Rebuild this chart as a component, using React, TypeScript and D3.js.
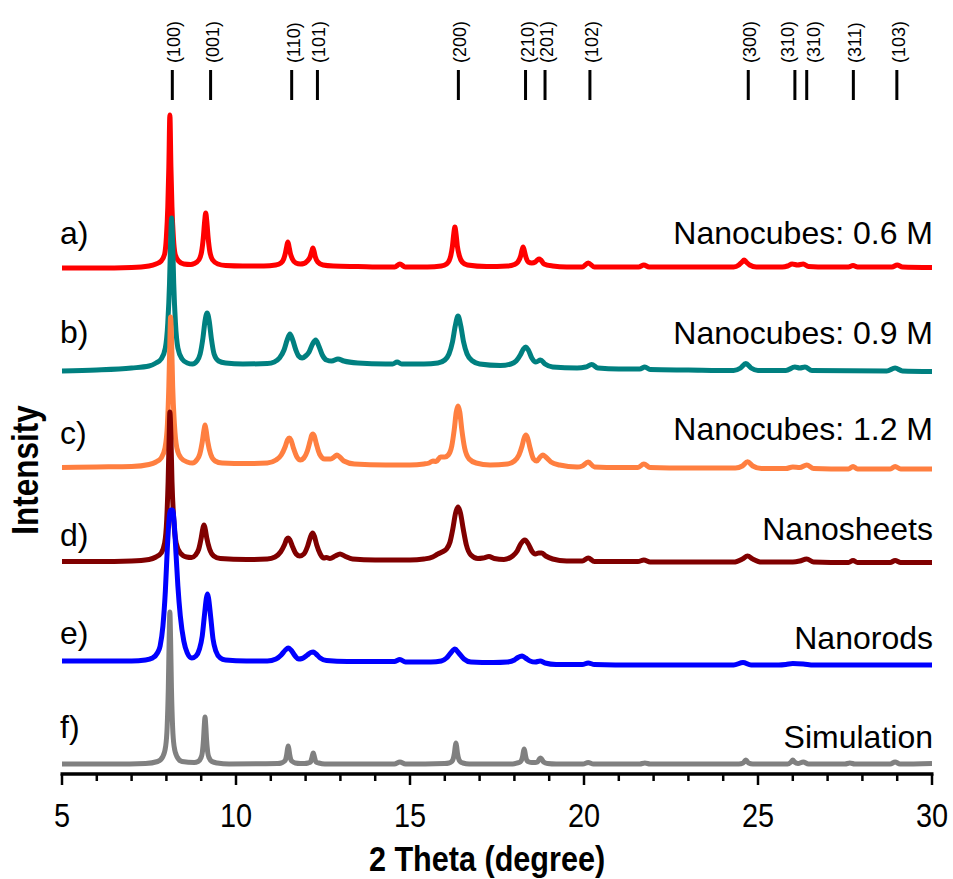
import React from 'react'
import * as d3 from 'd3'

// 2θ positions of the reflections marked at the top
const hklLabels = ['(100)', '(001)', '(110)', '(101)', '(200)', '(210)', '(201)', '(102)', '(300)', '(310)', '(310)', '(311)', '(103)']
const hklPositions = [8.17, 9.27, 11.6, 12.34, 16.39, 18.32, 18.88, 20.17, 24.72, 26.06, 26.4, 27.74, 28.99]

const seriesTags = ['a)', 'b)', 'c)', 'd)', 'e)', 'f)']
const seriesNames = ['Nanocubes: 0.6 M', 'Nanocubes: 0.9 M', 'Nanocubes: 1.2 M', 'Nanosheets', 'Nanorods', 'Simulation']
const seriesColors = ['#ff0000', '#008080', '#ff7f40', '#800000', '#0000ff', '#808080']
// vertical stacking offset of each pattern (a.u.)
const seriesOffsets = [508, 407, 309, 214, 114, 11]

const xTicksMajor = [5, 10, 15, 20, 25, 30]

// [2θ, intensity above the pattern's offset]
const curveA = [
    [5, -1], [6, -1], [7, -0.5], [7.5, 1], [7.7, 3], [7.85, 6], [7.95, 13], [8.0, 30], [8.04, 60], [8.07, 100], [8.1, 152], [8.13, 100], [8.16, 60], [8.2, 30], [8.25, 13], [8.35, 6], [8.5, 3],
    [8.7, 2.5], [8.8, 3.5], [8.93, 7], [9.01, 15], [9.06, 29], [9.1, 46], [9.13, 54], [9.16, 46], [9.2, 29], [9.25, 15], [9.33, 7], [9.48, 3], [9.7, 1.5],
    [10.2, 1], [10.8, 1], [11.14, 2], [11.29, 4], [11.37, 8], [11.42, 14], [11.46, 21], [11.49, 25], [11.52, 21], [11.56, 14], [11.62, 8], [11.72, 4], [11.85, 3],
    [11.95, 3.5], [12.05, 6], [12.13, 10], [12.18, 16], [12.21, 19], [12.24, 16], [12.28, 10], [12.35, 5], [12.5, 2], [12.8, 1], [13.5, 0.5],
    [14.3, 0], [14.56, 0], [14.71, 3], [14.86, 0], [15.5, 0], [15.9, 1], [16.05, 3], [16.12, 6], [16.17, 11], [16.22, 21], [16.26, 34], [16.29, 40], [16.32, 34], [16.36, 21], [16.42, 11], [16.5, 5], [16.65, 2],
    [17.2, 0.5], [17.8, 1], [18.0, 2.5], [18.1, 5], [18.18, 11], [18.22, 17], [18.25, 20], [18.28, 17], [18.33, 10], [18.4, 5], [18.5, 4], [18.6, 5], [18.66, 7], [18.71, 8], [18.76, 7], [18.85, 3], [19.1, 1],
    [19.5, 0], [19.95, 0], [20.12, 4], [20.3, 0], [21.0, 0], [21.57, 0], [21.72, 2], [21.87, 0], [23.0, 0],
    [24.3, 0], [24.45, 2], [24.54, 5], [24.6, 7], [24.66, 5], [24.76, 2], [24.95, 0], [25.7, 0], [25.85, 1], [25.98, 3], [26.14, 2], [26.3, 3], [26.45, 0.5],
    [27.0, 0], [27.6, 0], [27.73, 1.5], [27.86, 0], [28.85, 0], [29.0, 2], [29.15, 0], [30, -0.5],
]

const curveB = [
    [5, -3], [6, -2], [7, 0], [7.5, 2], [7.7, 5], [7.85, 9], [7.97, 20], [8.04, 45], [8.09, 85], [8.12, 125], [8.15, 150], [8.18, 125], [8.21, 85], [8.26, 45], [8.33, 20], [8.45, 9], [8.6, 5],
    [8.75, 4], [8.88, 7], [8.97, 14], [9.05, 30], [9.11, 47], [9.17, 55], [9.23, 47], [9.29, 30], [9.37, 14], [9.5, 7], [9.7, 5],
    [10.2, 4], [10.9, 4.5], [11.1, 6], [11.25, 10], [11.38, 18], [11.47, 28], [11.55, 34], [11.63, 28], [11.72, 18], [11.8, 12], [11.9, 10],
    [12.0, 12], [12.1, 16], [12.2, 24], [12.29, 28], [12.38, 22], [12.48, 13], [12.6, 8], [12.75, 7], [12.93, 9], [13.1, 7], [13.5, 5],
    [14.3, 4], [14.5, 4], [14.63, 6], [14.76, 4], [15.4, 4], [15.8, 5], [16.0, 8], [16.12, 14], [16.22, 26], [16.3, 42], [16.38, 52], [16.46, 42], [16.54, 26], [16.64, 14], [16.8, 7], [17.0, 4],
    [17.6, 2.5], [17.9, 4], [18.05, 7], [18.17, 13], [18.26, 19], [18.33, 21], [18.4, 18], [18.5, 10], [18.62, 6], [18.75, 8], [18.88, 4], [19.1, 1],
    [19.8, 0], [20.05, 1], [20.22, 3.5], [20.4, 0], [21.0, -1], [21.6, -1], [21.75, 1], [21.9, -1.5], [23.0, -2],
    [24.3, -2.5], [24.5, 0], [24.65, 4.5], [24.8, 0], [25.0, -2.5], [25.8, -2.5], [26.06, 1], [26.2, 0], [26.35, 1], [26.55, -2.5],
    [28.7, -3], [28.94, 0], [29.15, -3], [30, -3.5],
]

const curveC = [
    [5, -1.5], [6, -1], [7, -0.5], [7.5, 1.5], [7.7, 4], [7.85, 8], [7.96, 18], [8.03, 42], [8.07, 80], [8.1, 125], [8.12, 149], [8.15, 125], [8.18, 80], [8.23, 42], [8.3, 18], [8.42, 8], [8.6, 4],
    [8.75, 3], [8.87, 6], [8.96, 12], [9.03, 24], [9.08, 36], [9.11, 41], [9.14, 36], [9.19, 24], [9.27, 12], [9.4, 5], [9.6, 3],
    [10.3, 2.5], [10.9, 3], [11.15, 6], [11.3, 11], [11.41, 19], [11.48, 26], [11.53, 28], [11.58, 26], [11.65, 18], [11.75, 9], [11.85, 6],
    [11.95, 8], [12.05, 15], [12.13, 25], [12.18, 31], [12.21, 32], [12.25, 30], [12.31, 22], [12.4, 12], [12.55, 7], [12.72, 7], [12.82, 9], [12.9, 11], [12.98, 9], [13.1, 5], [13.4, 2],
    [14.3, 1], [15.0, 1], [15.4, 2], [15.55, 3], [15.66, 5], [15.75, 4.5], [15.88, 9], [16.0, 9], [16.1, 11], [16.2, 20], [16.27, 36], [16.33, 54], [16.38, 60], [16.43, 54], [16.49, 36], [16.57, 18], [16.7, 7], [16.9, 3],
    [17.3, 1], [17.8, 2], [18.0, 5], [18.13, 11], [18.22, 20], [18.28, 28], [18.33, 31], [18.38, 28], [18.45, 18], [18.55, 7], [18.64, 5], [18.74, 9], [18.82, 11], [18.9, 9], [19.05, 4], [19.3, 1],
    [19.8, -1], [19.95, 0], [20.12, 4], [20.3, -1], [21.0, -1.5], [21.55, -1.5], [21.72, 2], [21.9, -1.5], [23.0, -2],
    [24.35, -2], [24.55, 0], [24.7, 4.3], [24.85, 0], [25.1, -2.5], [25.8, -2.5], [26.0, -1], [26.2, -1.5], [26.4, 1], [26.6, -2.5],
    [27.6, -3], [27.73, -0.5], [27.86, -3], [28.8, -3], [28.94, -0.5], [29.1, -3], [30, -3],
]

const curveD = [
    [5, -0.5], [6, -0.5], [7, 0], [7.5, 1.5], [7.7, 4], [7.85, 8], [7.95, 18], [8.01, 42], [8.05, 80], [8.08, 125], [8.1, 149], [8.13, 125], [8.16, 80], [8.21, 42], [8.28, 18], [8.4, 8], [8.58, 4],
    [8.72, 3.5], [8.84, 6], [8.93, 12], [9.0, 23], [9.05, 33], [9.08, 36], [9.11, 33], [9.16, 23], [9.24, 12], [9.36, 5], [9.55, 2.5],
    [10.3, 1.5], [10.9, 2], [11.12, 4], [11.28, 9], [11.39, 16], [11.46, 22], [11.5, 23], [11.55, 21], [11.63, 14], [11.73, 7], [11.83, 5],
    [11.95, 7], [12.06, 15], [12.14, 24], [12.2, 28], [12.25, 25], [12.32, 16], [12.42, 7], [12.52, 3], [12.6, 3.5], [12.7, 2.5], [12.85, 5], [12.99, 7], [13.12, 5], [13.35, 2],
    [14.0, 1], [15.0, 1], [15.4, 2], [15.65, 4], [15.8, 7], [15.92, 9], [16.05, 12], [16.15, 19], [16.23, 32], [16.31, 48], [16.38, 54], [16.45, 48], [16.53, 32], [16.62, 16], [16.75, 6], [16.95, 2.5],
    [17.1, 3], [17.27, 4.5], [17.42, 2.5], [17.7, 1.5], [17.95, 5], [18.08, 10], [18.18, 17], [18.3, 21], [18.4, 17], [18.5, 10], [18.6, 7], [18.7, 8], [18.78, 8], [18.9, 5], [19.1, 2],
    [19.5, 0], [19.95, 0], [20.12, 3], [20.3, -0.5], [21.0, -0.5], [21.55, -0.5], [21.72, 1], [21.9, -1], [23.5, -1],
    [24.3, -1], [24.55, 2], [24.7, 5], [24.85, 2], [25.1, -1], [26.0, -1], [26.2, 0], [26.4, 2], [26.6, -1],
    [27.6, -1.5], [27.73, 0.5], [27.86, -1.5], [28.8, -1.5], [28.94, 0.5], [29.1, -1.5], [30, -1.5],
]

const curveE = [
    [5, 0], [6, 0], [7, 0], [7.4, 1], [7.6, 3], [7.74, 8], [7.82, 15], [7.9, 35], [7.97, 70], [8.03, 115], [8.09, 147], [8.12, 151], [8.18, 151], [8.22, 140], [8.28, 105], [8.33, 75], [8.4, 45], [8.5, 20], [8.6, 8],
    [8.73, 3], [8.85, 5], [8.95, 12], [9.03, 25], [9.1, 48], [9.15, 63], [9.18, 67], [9.21, 63], [9.27, 45], [9.34, 22], [9.42, 10], [9.55, 3], [9.7, 1],
    [10.3, 0], [10.9, 0], [11.15, 2], [11.3, 6], [11.42, 11], [11.5, 13], [11.58, 11], [11.7, 5], [11.8, 2],
    [11.9, 2.5], [12.05, 6], [12.15, 8.5], [12.22, 9], [12.3, 7], [12.42, 3], [12.6, 0.5], [13.2, -0.5],
    [14.4, -0.5], [14.55, -0.5], [14.71, 1.5], [14.87, -1], [15.6, -1], [15.9, 0], [16.05, 3], [16.17, 8], [16.29, 12], [16.4, 8], [16.55, 2], [16.75, -1],
    [17.4, -1.5], [17.8, -1], [18.0, 1], [18.1, 3.5], [18.22, 5], [18.32, 3], [18.45, 0], [18.6, -1], [18.74, 0], [18.88, -2], [19.2, -3.5],
    [19.95, -3.5], [20.12, -2], [20.3, -3.5], [21.5, -4], [23.0, -4],
    [24.3, -4], [24.57, -1.5], [24.8, -4], [25.6, -4], [25.8, -3.5], [26.0, -2.5], [26.3, -3], [26.6, -4], [28.0, -4], [30, -4],
]

const curveF = [
    [5, 0], [6.5, 0], [7.4, 0.5], [7.75, 2.5], [7.9, 7.5], [7.98, 18], [8.02, 36], [8.055, 76], [8.08, 126], [8.1, 152], [8.12, 126], [8.145, 76], [8.18, 36], [8.22, 18], [8.3, 7.5], [8.45, 2.5],
    [8.8, 1.5], [8.91, 2.5], [8.99, 6], [9.03, 11], [9.065, 24], [9.09, 39], [9.11, 47], [9.13, 39], [9.155, 24], [9.19, 11], [9.23, 6], [9.31, 2.5], [9.46, 1], [9.8, 0],
    [11.2, 0.5], [11.3, 1], [11.38, 2.5], [11.42, 4], [11.455, 9], [11.48, 15], [11.5, 18], [11.52, 15], [11.545, 9], [11.58, 4], [11.62, 2.5], [11.7, 1], [11.85, 0.5],
    [11.97, 0.5], [12.07, 1], [12.14, 2], [12.175, 5.5], [12.2, 9], [12.22, 11], [12.24, 9], [12.265, 5.5], [12.3, 2], [12.38, 1], [12.55, 0],
    [14.55, 0], [14.71, 2], [14.87, 0],
    [16.0, 0.5], [16.12, 1], [16.2, 2.5], [16.24, 5], [16.275, 10.5], [16.3, 17.5], [16.32, 21], [16.34, 17.5], [16.365, 10.5], [16.4, 5], [16.44, 2.5], [16.52, 1], [16.7, 0],
    [17.95, 0], [18.08, 1], [18.16, 2], [18.2, 3.5], [18.235, 7.5], [18.26, 12.5], [18.28, 15], [18.3, 12.5], [18.325, 7.5], [18.36, 3.5], [18.42, 2], [18.5, 1.5], [18.6, 1.5],
    [18.66, 2], [18.72, 5], [18.75, 6], [18.78, 5], [18.84, 2], [18.95, 0.5], [19.2, 0],
    [19.97, 0], [20.12, 1.5], [20.27, 0], [21.6, 0], [21.75, 1], [21.9, 0],
    [24.45, 0], [24.57, 1], [24.62, 3], [24.65, 4], [24.68, 3], [24.73, 1], [24.85, 0],
    [25.85, 0], [25.95, 2], [26.0, 4], [26.05, 2], [26.15, 0.5], [26.3, 2], [26.45, 0],
    [27.5, 0], [27.64, 1], [27.78, 0], [28.8, 0], [28.94, 2], [29.08, 0], [30, 0.5],
]

const curves = [curveA, curveB, curveC, curveD, curveE, curveF]

// layout: label baselines (px) for the left tags and right names
const tagY = [244, 343, 444, 546, 644, 738]
const nameY = [244, 344, 440, 540, 649, 748]
// layout: horizontal nudge of each hkl text relative to its marker (px)
const hklNudge = [1.5, 1.5, 1.5, 1.5, 1.5, 1.5, 1.5, 1.5, 1.5, -7, 7, 1.5, 1.5]

export default function App() {
    const width = 953
    const height = 879
    const [left, right, axisY] = [62, 932, 774]

    const x = d3.scaleLinear().domain([5, 30]).range([left, right])
    const y = d3.scaleLinear().domain([0, 700]).range([775, 75])
    const minorTicks = x.ticks(25)

    const font = "'Liberation Sans', Arial, sans-serif"

    return (
        <svg
            width={width}
            height={height}
            style={{ position: 'absolute', left: 0, top: 0, background: 'white' }}
            fontFamily={font}
        >
            {/* hkl markers */}
            <g>
                {hklPositions.map((p, i) => (
                    <g key={i}>
                        <line x1={x(p)} x2={x(p)} y1={70} y2={100} stroke='black' strokeWidth={3} />
                        <text
                            transform={`translate(${x(p) + hklNudge[i]},63) rotate(-90)`}
                            dy='0.36em'
                            fontSize={18}
                            textAnchor='start'
                        >
                            {hklLabels[i]}
                        </text>
                    </g>
                ))}
            </g>

            {/* patterns, a) drawn first so f) lies on top */}
            <g fill='none' strokeWidth={5} strokeLinejoin='round'>
                {curves.map((c, i) => {
                    const line = d3
                        .line<number[]>()
                        .x(d => x(d[0]))
                        .y(d => y(d[1] + seriesOffsets[i]))
                        .curve(d3.curveMonotoneX)
                    return <path key={i} d={line(c) || ''} stroke={seriesColors[i]} />
                })}
            </g>

            {/* series labels */}
            <g fontSize={32}>
                {seriesTags.map((t, i) => (
                    <text key={t} x={60} y={tagY[i]}>
                        {t}
                    </text>
                ))}
                {seriesNames.map((n, i) => (
                    <text key={n} x={933} y={nameY[i]} textAnchor='end'>
                        {n}
                    </text>
                ))}
            </g>

            {/* x axis */}
            <g stroke='black'>
                <line x1={left - 1.5} x2={right + 1.5} y1={axisY} y2={axisY} strokeWidth={3.5} />
                {minorTicks.map(t => (
                    <line
                        key={t}
                        x1={x(t)}
                        x2={x(t)}
                        y1={axisY}
                        y2={axisY + (xTicksMajor.includes(t) ? 11 : 7)}
                        strokeWidth={2.5}
                    />
                ))}
            </g>
            <g fontSize={34}>
                {xTicksMajor.map(t => (
                    <text key={t} transform={`translate(${x(t)},827) scale(0.85,1)`} textAnchor='middle'>
                        {t}
                    </text>
                ))}
            </g>
            <text
                transform={`translate(${(left + right) / 2 - 10},871) scale(0.85,1)`}
                textAnchor='middle'
                fontSize={36}
                fontWeight='bold'
            >
                2 Theta (degree)
            </text>
            <text
                transform={`translate(38,470) rotate(-90) scale(0.85,1)`}
                textAnchor='middle'
                fontSize={37}
                fontWeight='bold'
            >
                Intensity
            </text>
        </svg>
    )
}
